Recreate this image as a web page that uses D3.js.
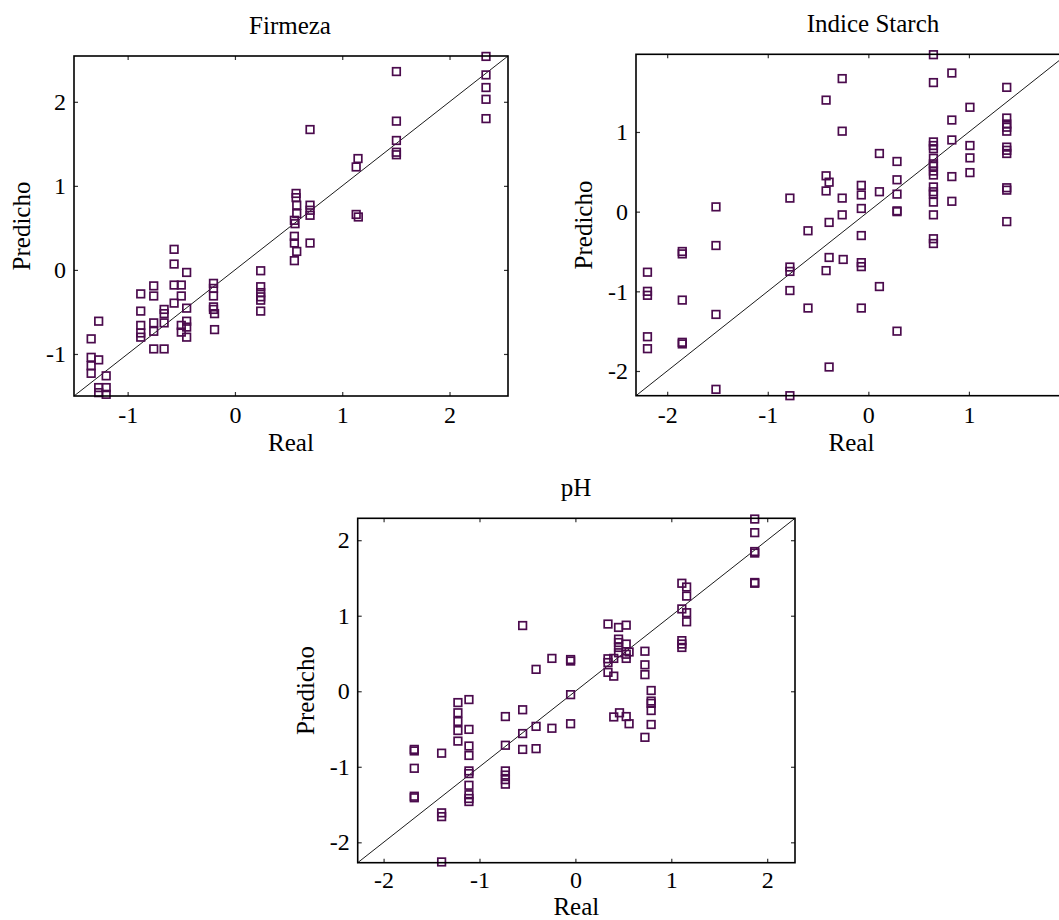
<!DOCTYPE html>
<html>
<head>
<meta charset="utf-8">
<script src="https://cdn.jsdelivr.net/npm/d3@7"></script>
<style>
  body { margin: 0; background: #fff; }
  svg { display: block; }
  text { font-family: "Liberation Serif", "Times New Roman", serif; fill: #000; }
</style>
</head>
<body>
<div id="chart"></div>
<script>
// Firmeza: real vs predicho
const firmezaReal = [-0.567,-0.567,-0.45,-0.757,-0.757,-0.878,-0.567,-0.5,-0.5,-0.567,-0.66,-0.66,-0.66,-0.757,-0.757,-0.878,-0.878,-0.878,-0.878,-0.45,-0.45,-0.5,-0.5,-0.45,-0.45,-0.757,-0.66,-0.2,-0.2,-0.2,-0.2,-0.2,-0.19,-0.19,0.24,0.24,0.24,0.24,0.24,0.24,-1.34,-1.27,-1.34,-1.27,-1.34,-1.34,-1.2,-1.27,-1.2,-1.27,-1.2,
  2.34,2.34,2.34,2.34,2.34,1.505,1.505,1.505,1.505,1.505,0.70,1.147,1.13,1.13,1.15,0.57,0.57,0.576,0.70,0.70,0.70,0.576,0.554,0.56,0.554,0.554,0.70,0.576,0.554];
const firmezaPred = [0.245,0.07,-0.03,-0.19,-0.31,-0.285,-0.18,-0.18,-0.31,-0.395,-0.47,-0.52,-0.63,-0.63,-0.73,-0.49,-0.66,-0.75,-0.8,-0.455,-0.61,-0.66,-0.74,-0.68,-0.8,-0.94,-0.94,-0.16,-0.22,-0.31,-0.44,-0.47,-0.52,-0.71,-0.01,-0.2,-0.27,-0.32,-0.36,-0.49,-0.82,-0.61,-1.04,-1.07,-1.14,-1.23,-1.26,-1.40,-1.40,-1.46,-1.48,
  2.54,2.32,2.17,2.03,1.80,2.36,1.77,1.54,1.40,1.37,1.67,1.325,1.225,0.66,0.63,0.91,0.86,0.77,0.77,0.71,0.65,0.67,0.59,0.55,0.40,0.32,0.32,0.22,0.11];

// Indice Starch
const starchReal = [-1.515,-0.78,-0.42,-0.42,-0.39,-0.42,-0.39,-0.26,-0.26,-0.26,-0.26,
  0.647,0.647,0.83,1.376,1.01,0.83,1.376,1.376,1.376,1.376,0.83,1.01,1.01,1.01,0.647,0.647,0.647,0.647,0.647,0.647,0.647,0.647,0.647,0.647,0.647,0.647,0.647,0.83,0.83,1.376,1.376,1.376,1.376,1.376,1.376,0.11,0.285,0.285,0.285,0.285,0.285,-0.07,-0.07,-0.07,0.11,
  -0.07,-0.25,-0.07,-0.07,0.11,-0.07,0.285,0.647,0.647,
  -2.196,-2.196,-2.196,-2.196,-2.196,-1.85,-1.85,-1.85,-1.85,-1.85,-1.515,-1.515,-1.515,-0.78,-0.78,-0.78,-0.78,-0.60,-0.60,-0.39,-0.42,-0.39];
const starchPred = [0.06,0.17,1.40,0.45,0.37,0.26,-0.135,1.67,1.01,0.17,-0.04,
  1.97,1.62,1.74,1.56,1.31,1.15,1.175,1.10,1.06,1.01,0.90,0.83,0.675,0.49,0.875,0.83,0.79,0.67,0.60,0.57,0.51,0.46,0.31,0.25,0.22,0.12,-0.04,0.44,0.13,0.81,0.77,0.73,0.30,0.27,-0.125,0.73,0.63,0.40,0.22,0.01,0.0,0.33,0.21,0.04,0.25,
  -0.30,-0.60,-0.64,-0.69,-0.94,-1.21,-1.50,-0.34,-0.40,
  -0.76,-1.00,-1.05,-1.57,-1.72,-0.50,-0.53,-1.11,-1.64,-1.66,-0.425,-1.29,-2.23,-0.695,-0.75,-0.99,-2.31,-0.24,-1.21,-0.575,-0.74,-1.95];

// pH
const phReal = [-0.55,-0.41,-0.245,-0.05,-0.05,
  1.87,1.87,1.87,1.87,1.87,1.87,
  1.11,1.16,1.16,1.11,1.16,1.16,1.11,1.11,1.11,
  0.34,0.45,0.53,0.45,0.45,0.53,0.45,0.56,0.53,0.45,0.34,0.40,0.34,0.53,0.34,0.40,0.725,0.725,0.725,
  -0.05,-0.05,0.40,0.46,0.53,0.56,0.725,0.79,0.79,0.79,0.79,0.79,
  -1.68,-1.68,-1.68,-1.68,-1.68,-1.395,-1.395,-1.395,-1.395,
  -1.225,-1.225,-1.225,-1.225,-1.225,
  -1.11,-1.11,-1.11,-1.11,-1.11,-1.11,-1.11,-1.11,-1.11,-1.11,
  -0.73,-0.73,-0.73,-0.73,-0.73,-0.73,
  -0.55,-0.55,-0.55,-0.41,-0.41,-0.245];
const phPred = [0.87,0.29,0.435,0.42,0.40,
  2.28,2.10,1.85,1.83,1.43,1.44,
  1.43,1.38,1.26,1.09,1.04,0.92,0.67,0.625,0.58,
  0.89,0.845,0.875,0.69,0.645,0.625,0.58,0.52,0.49,0.51,0.43,0.435,0.38,0.435,0.25,0.20,0.53,0.35,0.22,
  -0.045,-0.43,-0.34,-0.285,-0.335,-0.43,-0.61,0.01,-0.13,-0.16,-0.255,-0.44,
  -0.77,-0.79,-1.02,-1.39,-1.41,-0.82,-1.61,-1.66,-2.26,
  -0.15,-0.285,-0.40,-0.52,-0.66,
  -0.11,-0.505,-0.725,-0.85,-1.055,-1.09,-1.245,-1.37,-1.42,-1.46,
  -0.335,-0.715,-1.055,-1.11,-1.17,-1.23,
  -0.245,-0.56,-0.77,-0.465,-0.76,-0.49];

const firmezaTicks = [-1, 0, 1, 2];
const starchTicks = [-2, -1, 0, 1];
const phTicks = [-2, -1, 0, 1, 2];

const titles = ["Firmeza", "Indice Starch", "pH"];
const xLabel = "Real";
const yLabel = "Predicho";

const W = 1059, H = 920;
const markColor = "#4b0b4d";

const svg = d3.select("#chart").append("svg")
  .attr("width", W)
  .attr("height", H);

// Draw one scatter panel
function drawPanel(box, domain, ticks, real, pred, title, titleX, realDy, pad) {
  const x = d3.scaleLinear().domain(domain).range([box.x0, box.x1]);
  const y = d3.scaleLinear().domain(domain).range([box.y1, box.y0]);
  const g = svg.append("g");

  // diagonal y = x
  g.append("line")
    .attr("x1", x(domain[0])).attr("y1", y(domain[0]))
    .attr("x2", x(domain[1])).attr("y2", y(domain[1]))
    .attr("stroke", "#000").attr("stroke-width", 0.9);

  const pts = real.map((r, i) => ({ r: r, p: pred[i] }));
  const s = 7.6;
  g.selectAll("rect.pt").data(pts).enter().append("rect")
    .attr("class", "pt")
    .attr("x", d => x(d.r) - s / 2)
    .attr("y", d => y(d.p) - s / 2)
    .attr("width", s).attr("height", s)
    .attr("fill", "none")
    .attr("stroke", markColor)
    .attr("stroke-width", 1.7);

  // axes, ticks pointing inward
  const fs = "24px";
  const bottom = g.append("g").attr("transform", "translate(0," + box.y1 + ")")
    .call(d3.axisBottom(x).tickValues(ticks).tickSize(-4).tickPadding(pad).tickFormat(d3.format("d")));
  const top = g.append("g").attr("transform", "translate(0," + box.y0 + ")")
    .call(d3.axisTop(x).tickValues(ticks).tickSize(-4).tickFormat(""));
  const left = g.append("g").attr("transform", "translate(" + box.x0 + ",0)")
    .call(d3.axisLeft(y).tickValues(ticks).tickSize(-4).tickPadding(8).tickFormat(d3.format("d")));
  const right = g.append("g").attr("transform", "translate(" + box.x1 + ",0)")
    .call(d3.axisRight(y).tickValues(ticks).tickSize(-4).tickFormat(""));
  [bottom, top, left, right].forEach(a => {
    a.select(".domain").remove();
    a.selectAll("line").attr("stroke", "#333").attr("stroke-width", 1.2);
    a.selectAll("text").attr("font-size", fs).attr("font-family", "Liberation Serif, Times New Roman, serif").attr("fill", "#000");
  });
  // minus sign drawn as hyphen
  bottom.selectAll("text").text(d => String(d));
  left.selectAll("text").text(d => String(d));

  g.append("rect")
    .attr("x", box.x0).attr("y", box.y0)
    .attr("width", box.x1 - box.x0).attr("height", box.y1 - box.y0)
    .attr("fill", "none").attr("stroke", "#000").attr("stroke-width", 1.6);

  g.append("text")
    .attr("x", titleX).attr("y", box.y0 - 22)
    .attr("text-anchor", "middle").attr("font-size", "25px")
    .text(title);
  g.append("text")
    .attr("x", (box.x0 + box.x1) / 2).attr("y", box.y1 + realDy)
    .attr("text-anchor", "middle").attr("font-size", "25px")
    .text(xLabel);
  g.append("text")
    .attr("transform", "translate(" + (box.x0 - 44) + "," + ((box.y0 + box.y1) / 2) + ") rotate(-90)")
    .attr("text-anchor", "middle").attr("font-size", "25px")
    .text(yLabel);
}

drawPanel({ x0: 74, x1: 508, y0: 56, y1: 396 }, [-1.5, 2.545], firmezaTicks, firmezaReal, firmezaPred, titles[0], 290, 55, 10);
drawPanel({ x0: 636, x1: 1067, y0: 54.3, y1: 395.7 }, [-2.31, 1.975], starchTicks, starchReal, starchPred, titles[1], 873, 55, 10);
drawPanel({ x0: 357.7, x1: 795, y0: 518.3, y1: 862.7 }, [-2.27, 2.29], phTicks, phReal, phPred, titles[2], 576, 52, 8);
</script>
</body>
</html>
